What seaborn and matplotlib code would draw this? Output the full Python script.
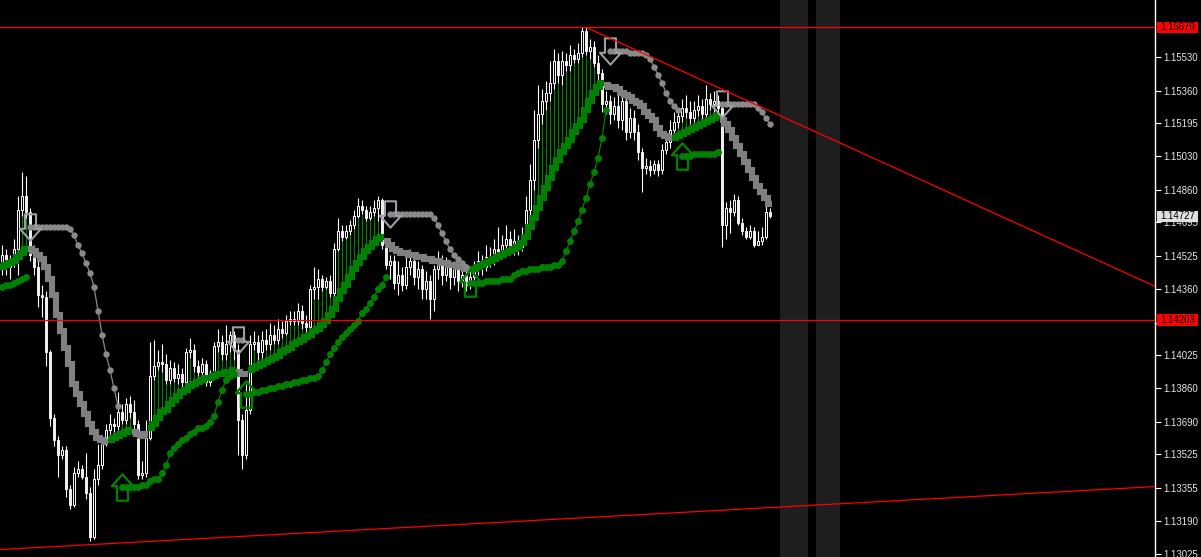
import numpy as np
import matplotlib
matplotlib.use("Agg")
import matplotlib.pyplot as plt
from matplotlib.path import Path
from matplotlib.patches import Rectangle
import seaborn as sns

# EURUSD style chart, one value per bar (open = previous close)
first_open = 1.1448
closes = [
    1.1453, 1.1447, 1.1450, 1.1456, 1.1476, 1.1483, 1.1475, 1.1453, 1.1447, 1.1433,
    1.1432, 1.1404, 1.1371, 1.1360, 1.1352, 1.1355, 1.1335, 1.1327, 1.1343, 1.1345,
    1.1341, 1.1333, 1.1311, 1.1340, 1.1347, 1.1358, 1.1365, 1.1368, 1.1367, 1.1374,
    1.1370, 1.1378, 1.1374, 1.1368, 1.1342, 1.1343, 1.1361, 1.1392, 1.1397, 1.1399,
    1.1398, 1.1390, 1.1396, 1.1391, 1.1393, 1.1389, 1.1404, 1.1405, 1.1397, 1.1394,
    1.1398, 1.1389, 1.1393, 1.1407, 1.1409, 1.1403, 1.1408, 1.1413, 1.1405, 1.1370,
    1.1352, 1.1375, 1.1408, 1.1409, 1.1404, 1.1410, 1.1408, 1.1413, 1.1410, 1.1416,
    1.1414, 1.1420, 1.1421, 1.1420, 1.1425, 1.1419, 1.1417, 1.1436, 1.1437, 1.1441,
    1.1437, 1.1440, 1.1434, 1.1456, 1.1465, 1.1462, 1.1465, 1.1468, 1.1473, 1.1478,
    1.1476, 1.1472, 1.1475, 1.1477, 1.1481, 1.1458, 1.1448, 1.1450, 1.1439, 1.1443,
    1.1438, 1.1447, 1.1450, 1.1442, 1.1446, 1.1436, 1.1440, 1.1431, 1.1446, 1.1450,
    1.1443, 1.1447, 1.1442, 1.1446, 1.1440, 1.1443, 1.1438, 1.1442, 1.1446, 1.1450,
    1.1447, 1.1452, 1.1450, 1.1456, 1.1453, 1.1458, 1.1461, 1.1456, 1.1460, 1.1457,
    1.1462, 1.1476, 1.1491, 1.1511, 1.1524, 1.1531, 1.1535, 1.1540, 1.1551, 1.1544,
    1.1551, 1.1549, 1.1554, 1.1552, 1.1555, 1.1566, 1.1556, 1.1558, 1.1550, 1.1545,
    1.1529, 1.1531, 1.1524, 1.1528, 1.1521, 1.1531, 1.1515, 1.1522, 1.1515, 1.1505,
    1.1497, 1.1498, 1.1496, 1.1499, 1.1496, 1.1506, 1.1510, 1.1516, 1.1520, 1.1523,
    1.1527, 1.1525, 1.1522, 1.1526, 1.1528, 1.1524, 1.1532, 1.1529, 1.1531, 1.1527,
    1.1468, 1.1477, 1.1475, 1.1481, 1.1469, 1.1465, 1.1462, 1.1465, 1.1458, 1.1460,
    1.1462, 1.1475, 1.14727,
]
highs = [
    1.1458, 1.1456, 1.1453, 1.1461, 1.1483, 1.1495, 1.1493, 1.1477, 1.1458, 1.1450,
    1.1438, 1.1435, 1.1405, 1.1373, 1.1362, 1.1357, 1.1357, 1.1337, 1.1346, 1.1349,
    1.1347, 1.1353, 1.1336, 1.1345, 1.1358, 1.1360, 1.1368, 1.1373, 1.1371, 1.1384,
    1.1378, 1.1381, 1.1382, 1.1380, 1.1370, 1.1349, 1.1370, 1.1409, 1.1410, 1.1405,
    1.1408, 1.1403, 1.1400, 1.1399, 1.1398, 1.1396, 1.1406, 1.1411, 1.1408, 1.1400,
    1.1401, 1.1400, 1.1395, 1.1409, 1.1416, 1.1413, 1.1418, 1.1415, 1.1415, 1.1408,
    1.1373, 1.1388, 1.1413, 1.1415, 1.1413, 1.1415, 1.1416, 1.1419, 1.1418, 1.1421,
    1.1420, 1.1423, 1.1425, 1.1425, 1.1429, 1.1428, 1.1423, 1.1438, 1.1447, 1.1446,
    1.1443, 1.1442, 1.1443, 1.1459, 1.1472, 1.1468, 1.1468, 1.1471, 1.1476, 1.1482,
    1.1481, 1.1478, 1.1478, 1.1481, 1.1483, 1.1482, 1.1461, 1.1453, 1.1453, 1.1450,
    1.1447, 1.1452, 1.1456, 1.1453, 1.1450, 1.1448, 1.1445, 1.1443, 1.1448, 1.1455,
    1.1453, 1.1452, 1.1450, 1.1450, 1.1448, 1.1447, 1.1446, 1.1447, 1.1450, 1.1455,
    1.1453, 1.1458, 1.1457, 1.1461, 1.1467, 1.1463, 1.1468, 1.1465, 1.1466, 1.1463,
    1.1467, 1.1483, 1.1499, 1.1526, 1.1539, 1.1537, 1.1541, 1.1551, 1.1557, 1.1555,
    1.1556, 1.1555, 1.1559, 1.1557, 1.1560, 1.1568, 1.1568, 1.1562, 1.1561, 1.1554,
    1.1547, 1.1536, 1.1534, 1.1533, 1.1534, 1.1534, 1.1532, 1.1527, 1.1526, 1.1519,
    1.1507, 1.1502, 1.1501, 1.1501, 1.1501, 1.1509, 1.1514, 1.1521, 1.1525, 1.1527,
    1.1532, 1.1534, 1.1531, 1.1531, 1.1534, 1.1532, 1.1539, 1.1535, 1.1536, 1.1534,
    1.1530, 1.1480, 1.1481, 1.1484, 1.1483, 1.1472, 1.1467, 1.1468, 1.1467, 1.1465,
    1.1467, 1.1478, 1.1477,
]
lows = [
    1.1443, 1.1443, 1.1441, 1.1447, 1.1443, 1.1473, 1.1472, 1.1450, 1.1443, 1.1427,
    1.1422, 1.1397, 1.1367, 1.1357, 1.1341, 1.1350, 1.1331, 1.1325, 1.1326, 1.1341,
    1.1340, 1.1330, 1.1309, 1.1310, 1.1337, 1.1345, 1.1357, 1.1363, 1.1364, 1.1365,
    1.1368, 1.1368, 1.1371, 1.1365, 1.1340, 1.1340, 1.1341, 1.1360, 1.1390, 1.1395,
    1.1394, 1.1388, 1.1388, 1.1389, 1.1388, 1.1386, 1.1388, 1.1401, 1.1394, 1.1392,
    1.1392, 1.1387, 1.1387, 1.1390, 1.1404, 1.1400, 1.1400, 1.1404, 1.1400, 1.1352,
    1.1345, 1.1350, 1.1373, 1.1405, 1.1400, 1.1401, 1.1405, 1.1405, 1.1408, 1.1408,
    1.1411, 1.1413, 1.1418, 1.1418, 1.1418, 1.1416, 1.1410, 1.1415, 1.1431, 1.1431,
    1.1435, 1.1436, 1.1432, 1.1432, 1.1455, 1.1460, 1.1461, 1.1463, 1.1466, 1.1472,
    1.1474, 1.1470, 1.1471, 1.1473, 1.1470, 1.1456, 1.1446, 1.1441, 1.1436, 1.1433,
    1.1435, 1.1436, 1.1443, 1.1438, 1.1436, 1.1431, 1.1431, 1.1421, 1.1425, 1.1441,
    1.1438, 1.1440, 1.1436, 1.1438, 1.1435, 1.1437, 1.1435, 1.1436, 1.1438, 1.1443,
    1.1443, 1.1445, 1.1447, 1.1448, 1.1450, 1.1451, 1.1455, 1.1453, 1.1453, 1.1453,
    1.1455, 1.1460, 1.1473, 1.1486, 1.1507, 1.1519, 1.1526, 1.1531, 1.1537, 1.1540,
    1.1539, 1.1546, 1.1546, 1.1550, 1.1550, 1.1553, 1.1554, 1.1552, 1.1548, 1.1541,
    1.1525, 1.1524, 1.1519, 1.1521, 1.1517, 1.1516, 1.1511, 1.1512, 1.1511, 1.1501,
    1.1485, 1.1494, 1.1493, 1.1494, 1.1493, 1.1494, 1.1504, 1.1507, 1.1514, 1.1517,
    1.1520, 1.1522, 1.1519, 1.1520, 1.1523, 1.1521, 1.1521, 1.1526, 1.1525, 1.1523,
    1.1457, 1.1461, 1.1464, 1.1473, 1.1468, 1.1463, 1.1461, 1.1461, 1.1457, 1.1458,
    1.1458, 1.1461, 1.1472,
]
# thick trend line (green rising / gray falling)
band = [
    1.1447, 1.1448, 1.1449, 1.1450, 1.1452, 1.1454, 1.1456, 1.1456, 1.1455, 1.1453,
    1.1451, 1.1447, 1.1441, 1.1433, 1.1423, 1.1415, 1.1406, 1.1398, 1.1388, 1.1383,
    1.1378, 1.1373, 1.1368, 1.1364, 1.1361, 1.1360, 1.1359, 1.1360, 1.1361, 1.1362,
    1.1363, 1.1364, 1.1365, 1.1364, 1.1363, 1.1362, 1.1363, 1.1366, 1.1368, 1.1371,
    1.1374, 1.1375, 1.1378, 1.1380, 1.1382, 1.1384, 1.1385, 1.1387, 1.1388, 1.1389,
    1.1390, 1.1391, 1.1391, 1.1392, 1.1393, 1.1393, 1.1394, 1.1394, 1.1395, 1.1394,
    1.1393, 1.1393, 1.1395, 1.1396, 1.1397, 1.1398, 1.1399, 1.1400, 1.1401, 1.1402,
    1.1404, 1.1405, 1.1406, 1.1408, 1.1409, 1.1410, 1.1412, 1.1413, 1.1415, 1.1416,
    1.1418, 1.1420, 1.1423, 1.1426, 1.1431, 1.1435, 1.1438, 1.1442, 1.1446, 1.1449,
    1.1452, 1.1455, 1.1457, 1.1459, 1.1461, 1.1462, 1.1460, 1.1458, 1.1456, 1.1455,
    1.1454, 1.1454, 1.1453, 1.1453, 1.1452, 1.1452, 1.1451, 1.1451, 1.1450, 1.1450,
    1.1449, 1.1449, 1.1448, 1.1448, 1.1447, 1.1447, 1.1446, 1.1446, 1.1446, 1.1447,
    1.1448, 1.1449, 1.1450, 1.1451, 1.1452, 1.1453, 1.1454, 1.1455, 1.1456, 1.1457,
    1.1459, 1.1462, 1.1467, 1.1472, 1.1477, 1.1482, 1.1487, 1.1492, 1.1497, 1.1501,
    1.1505, 1.1508, 1.1511, 1.1515, 1.1518, 1.1521, 1.1526, 1.1531, 1.1535, 1.1538,
    1.1540, 1.1539, 1.1538, 1.1538, 1.1537, 1.1535, 1.1534, 1.1533, 1.1531, 1.1530,
    1.1528, 1.1525, 1.1523, 1.1521, 1.1517, 1.1514, 1.1513, 1.1512, 1.1512, 1.1513,
    1.1514, 1.1515, 1.1516, 1.1517, 1.1518, 1.1519, 1.1520, 1.1521, 1.1522, 1.1523,
    1.1521, 1.1519, 1.1516, 1.1512, 1.1508, 1.1504, 1.1500, 1.1496, 1.1492, 1.1488,
    1.1485, 1.1482, 1.1479,
]
# trailing stop dots
stop = [
    1.1437, 1.1438, 1.1438, 1.1439, 1.1440, 1.1441, 1.1442, 1.1467, 1.1467, 1.1467,
    1.1467, 1.1467, 1.1467, 1.1467, 1.1467, 1.1467, 1.1467, 1.1466, 1.1463, 1.1458,
    1.1454, 1.1449, 1.1444, 1.1437, 1.1425, 1.1413, 1.1403, 1.1395, 1.1386, 1.1377,
    1.1336, 1.1336, 1.1336, 1.1336, 1.1336, 1.1337, 1.1337, 1.1339, 1.1340, 1.1340,
    1.1343, 1.1347, 1.1353, 1.1356, 1.1358, 1.1360, 1.1361, 1.1363, 1.1364, 1.1366,
    1.1366, 1.1367, 1.1369, 1.1372, 1.1379, 1.1385, 1.1390, 1.1392, 1.1393, 1.1410,
    1.1410, 1.1383, 1.1383, 1.1384, 1.1384, 1.1385, 1.1385, 1.1386, 1.1386, 1.1387,
    1.1387, 1.1388, 1.1388, 1.1389, 1.1389, 1.1390, 1.1390, 1.1391, 1.1391, 1.1392,
    1.1395, 1.1399, 1.1403, 1.1406, 1.1409, 1.1412, 1.1414, 1.1416, 1.1418, 1.1420,
    1.1424, 1.1426, 1.1429, 1.1432, 1.1436, 1.1438, 1.1442, 1.1474, 1.1474, 1.1474,
    1.1474, 1.1474, 1.1474, 1.1474, 1.1474, 1.1474, 1.1474, 1.1474, 1.1472, 1.1468,
    1.1464, 1.1460, 1.1456, 1.1453, 1.1451, 1.1449, 1.1447, 1.1439, 1.1439, 1.1439,
    1.1439, 1.1440, 1.1440, 1.1440, 1.1440, 1.1441, 1.1441, 1.1441, 1.1443, 1.1444,
    1.1445, 1.1445, 1.1446, 1.1446, 1.1446, 1.1447, 1.1447, 1.1447, 1.1448, 1.1448,
    1.1450, 1.1455, 1.1460, 1.1465, 1.1470, 1.1476, 1.1482, 1.1489, 1.1495, 1.1502,
    1.1512, 1.1526, 1.1556, 1.1556, 1.1556, 1.1556, 1.1556, 1.1555, 1.1555, 1.1555,
    1.1555, 1.1554, 1.1552, 1.1548, 1.1544, 1.1540, 1.1535, 1.1531, 1.1528, 1.1526,
    1.1503, 1.1503, 1.1503, 1.1504, 1.1504, 1.1504, 1.1504, 1.1504, 1.1504, 1.1505,
    1.1529, 1.1529, 1.1529, 1.1529, 1.1529, 1.1529, 1.1529, 1.1529, 1.1529, 1.1527,
    1.1525, 1.1522, 1.1519,
]
band_runs = [(0, 6, "up"), (7, 26, "down"), (27, 32, "up"), (33, 36, "down"),
             (37, 58, "up"), (59, 61, "down"), (62, 95, "up"), (96, 116, "down"),
             (117, 150, "up"), (151, 167, "down"), (168, 179, "up"), (180, 192, "down")]
stop_runs = [(0, 6, "up"), (7, 29, "down"), (30, 58, "up"), (59, 60, "down"),
             (61, 96, "up"), (97, 116, "down"), (117, 151, "up"), (152, 169, "down"),
             (170, 179, "up"), (180, 192, "down")]

levels = [1.15679, 1.14203]
trend_hi_bars = [146, 290]
trend_hi_prices = [1.15679, 1.14357]
trend_lo_bars = [-1, 290]
trend_lo_prices = [1.13045, 1.13365]
sessions = [(194.5, 201.5), (203.5, 209.5)]
price_ticks = [1.15530, 1.15360, 1.15195, 1.15030, 1.14860, 1.14695, 1.14525, 1.14360,
               1.14190, 1.14025, 1.13860, 1.13690, 1.13525, 1.13355, 1.13190, 1.13025]
hidden_ticks = [1.14190]  # sits under the red level label
last_price = 1.14727

for name, arr in [("highs", highs), ("lows", lows), ("band", band), ("stop", stop)]:
    if len(arr) != len(closes):
        raise ValueError(f"{name} has {len(arr)} values, closes has {len(closes)}")

sns.set_theme(style="dark", rc={"axes.facecolor": "black", "figure.facecolor": "black"})
plt.rcParams["font.family"] = ["Liberation Sans", "DejaVu Sans"]

GREEN = "#008000"
GRAY = "#808080"

c = np.array(closes)
o = np.r_[first_open, c[:-1]]
h = np.array(highs)
l = np.array(lows)
bnd = np.array(band)
stp = np.array(stop)
bars = np.arange(len(c))

fig = plt.figure(figsize=(12.01, 5.57), dpi=100)
ax = fig.add_axes([0, 0, 1155 / 1201, 1])
ax.set_facecolor("black")

# dark session columns
for a, b in sessions:
    ax.axvspan(a, b, color="#1e1e1e", lw=0, zorder=0)

# green histogram under the candles while the trend line rises
for s, e, d in band_runs:
    if d != "up":
        continue
    idx = np.arange(s, e + 1)
    m = l[idx] > bnd[idx]
    ax.vlines(idx[m], bnd[idx][m], l[idx][m], color=GREEN, lw=0.8, zorder=2)

# candles
up = c >= o
ax.vlines(bars, l, h, color="white", lw=0.8, zorder=3)
ax.bar(bars[up], np.maximum((c - o)[up], 0.00003), bottom=o[up], width=0.72,
       color="black", edgecolor="white", linewidth=0.7, zorder=4)
ax.bar(bars[~up], (o - c)[~up], bottom=c[~up], width=0.72,
       color="#f0f0f0", edgecolor="#f0f0f0", linewidth=0.7, zorder=4)

# thick stepped trend line
for s, e, d in band_runs:
    idx = np.arange(s, e + 1)
    xs = np.column_stack([idx - 0.5, idx + 0.5]).ravel()
    ys = np.repeat(bnd[idx], 2)
    sns.lineplot(x=xs, y=ys, color=GREEN if d == "up" else GRAY, lw=4.4,
                 sort=False, estimator=None, legend=False, ax=ax, zorder=5,
                 solid_capstyle="butt", solid_joinstyle="miter")

# trailing stop dots
for s, e, d in stop_runs:
    idx = np.arange(s, e + 1)
    col = GREEN if d == "up" else "#8a8a8a"
    sns.lineplot(x=idx, y=stp[idx], color=col, lw=0.9, marker="o",
                 markersize=5.0 if d == "up" else 4.6, markeredgewidth=0,
                 sort=False, estimator=None, legend=False, ax=ax, zorder=6)

# signal arrows
verts_up = [(0, 1), (0.8, 0.1), (0.42, 0.1), (0.42, -1), (-0.42, -1), (-0.42, 0.1),
            (-0.8, 0.1), (0, 1)]
codes = [Path.MOVETO] + [Path.LINETO] * 6 + [Path.CLOSEPOLY]
arrow_up = Path(verts_up, codes)
arrow_down = Path([(x, -y) for x, y in verts_up], codes)
for s, e, d in stop_runs[1:]:
    if d == "up":
        ax.plot(s, stp[s], marker=arrow_up, markersize=19, mfc="none", mec=GREEN,
                mew=1.7, zorder=7)
    else:
        ax.plot(s, stp[s], marker=arrow_down, markersize=19, mfc="none", mec="#9a9ea6",
                mew=1.5, zorder=7)

# red horizontal levels and trend lines
for p in levels:
    ax.axhline(p, color="#ff0000", lw=0.9, zorder=8)
ax.plot(trend_hi_bars, trend_hi_prices, color="#ff0000", lw=0.9, zorder=8)
ax.plot(trend_lo_bars, trend_lo_prices, color="#ff0000", lw=0.9, zorder=8)

ax.set_xlim(-0.5, 288.25)
ax.set_ylim(1.13008, 1.15817)
ax.grid(False)
ax.set_xticks([])
ax.set_yticks(price_ticks)
ax.set_yticklabels(["" if t in hidden_ticks else f"{t:.5f}" for t in price_ticks])
ax.yaxis.tick_right()
ax.tick_params(axis="y", right=True, left=False, labelright=True, labelleft=False,
               colors="white", labelcolor="#e6e6e6", length=4, width=0.8,
               labelsize=6.9, pad=2, direction="out")
for side in ["top", "left", "bottom"]:
    ax.spines[side].set_visible(False)
ax.spines["right"].set_color("white")
ax.spines["right"].set_linewidth(1.0)

# price labels on the scale
box_h = 0.00056
tr = ax.get_yaxis_transform()
for p, fc in [(levels[0], "#ff0000"), (levels[1], "#ff0000"), (last_price, "#e0e0e0")]:
    ax.add_patch(Rectangle((1 + 2 / 1155, p - box_h / 2), 41 / 1155, box_h,
                           transform=tr, facecolor=fc, edgecolor="none",
                           clip_on=False, zorder=10))
    ax.text(1 + 5 / 1155, p, f"{p:.5f}", transform=tr, ha="left", va="center",
            fontsize=6.9, color="black", clip_on=False, zorder=11)

fig.savefig("out.png", dpi=100, facecolor="black")
